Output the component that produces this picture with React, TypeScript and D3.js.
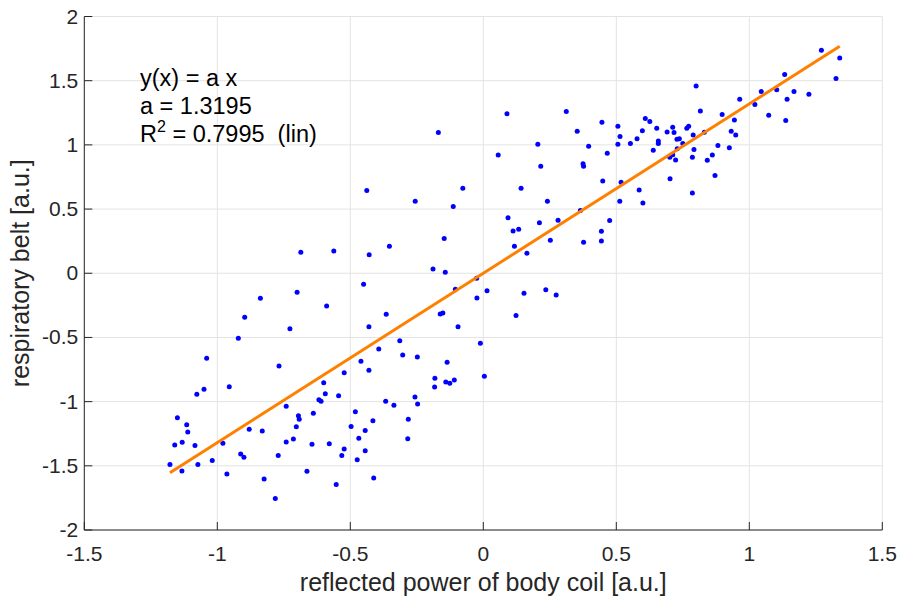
import React from "react";
import * as d3 from "d3";

const xValues = [
  -0.686, -0.700, -0.838, -0.589, -0.897, -0.727, -0.921, -1.040, -0.768, -0.955,
  -1.050, -1.077, -0.600, -0.594, -0.618, -0.610, -0.741, -1.150, -0.695, -0.692,
  -0.639, -1.115, -1.111, -0.703, -0.880, -0.831, -1.160, -1.132, -1.084, -0.979,
  -0.741, -0.714, -0.644, -0.579, -0.912, -0.900, -0.771, -1.178, -1.133, -1.073,
  -1.019, -0.964, -0.824, -0.663, -0.782, -0.438, -0.077, -0.256, -0.113, -0.147,
  -0.353, -0.562, -0.429, -0.189, -0.143, -0.450, -0.025, -0.105, 0.014, -0.024,
  -0.365, -0.162, -0.152, -0.430, -0.095, -0.314, -0.011, -0.393, -0.303, -0.248,
  -0.460, -0.136, -0.430, -0.523, 0.004, -0.182, -0.141, -0.126, -0.109, -0.183,
  -0.544, -0.257, -0.247, -0.367, -0.336, -0.481, -0.415, -0.282, -0.497, -0.444,
  -0.468, -0.284, -0.523, -0.444, -0.532, -0.474, -0.412, -0.553, 0.089, 0.312,
  0.446, 0.353, 0.506, 0.609, 0.626, 0.652, 0.691, 0.598, 0.514, 0.578,
  0.553, 0.506, 0.658, 0.658, 0.205, 0.396, 0.639, 0.466, 0.056, 0.701,
  0.216, 0.375, 0.377, 0.702, 0.449, 0.518, 0.142, 0.586, 0.600, 0.513,
  0.241, 0.365, 0.093, 0.281, 0.211, 0.475, 0.112, 0.133, 0.444, 0.252,
  0.377, 0.444, 0.117, 0.164, 0.153, 0.235, 0.274, 1.271, 1.340, 1.326,
  1.133, 0.800, 1.045, 1.103, 1.168, 1.224, 1.142, 0.964, 1.021, 0.816,
  0.898, 1.073, 1.137, 0.944, 0.712, 0.717, 0.765, 0.772, 0.932, 0.789,
  0.831, 0.949, 0.728, 0.737, 0.750, 0.729, 0.792, 0.882, 0.925, 0.712,
  0.723, 0.786, 0.861, 0.842, 0.871, 0.786, 0.123, -0.169,
];

const yValues = [
  0.164, -0.148, -0.195, -0.255, -0.343, -0.432, -0.507, -0.663, -0.723, -0.884,
  -0.904, -0.943, -0.853, -0.938, -0.985, -0.998, -1.037, -1.125, -1.110, -1.138,
  -1.091, -1.180, -1.237, -1.196, -1.216, -1.229, -1.338, -1.317, -1.341, -1.325,
  -1.315, -1.291, -1.333, -1.328, -1.408, -1.434, -1.419, -1.489, -1.541, -1.489,
  -1.458, -1.564, -1.603, -1.543, -1.754, 0.644, 0.663, 0.561, 0.519, 0.270,
  0.210, 0.174, 0.145, 0.034, 0.008, -0.086, -0.039, -0.125, -0.136, -0.193,
  -0.320, -0.318, -0.310, -0.416, -0.416, -0.525, -0.546, -0.590, -0.637, -0.652,
  -0.686, -0.694, -0.756, -0.775, -0.803, -0.818, -0.847, -0.857, -0.832, -0.886,
  -0.954, -0.964, -1.019, -0.998, -1.029, -1.079, -1.149, -1.138, -1.193, -1.224,
  -1.286, -1.289, -1.369, -1.383, -1.419, -1.453, -1.595, -1.645, 1.242, 1.260,
  1.177, 1.107, 1.146, 1.205, 1.182, 1.130, 1.101, 1.111, 1.065, 1.047,
  1.010, 1.005, 1.031, 1.010, 1.005, 0.990, 0.959, 0.935, 0.922, 0.904,
  0.834, 0.852, 0.834, 0.737, 0.719, 0.709, 0.663, 0.649, 0.548, 0.561,
  0.561, 0.488, 0.433, 0.413, 0.394, 0.410, 0.330, 0.343, 0.327, 0.257,
  0.242, 0.252, 0.210, 0.156, -0.156, -0.128, -0.169, 1.738, 1.676, 1.517,
  1.548, 1.458, 1.415, 1.429, 1.415, 1.395, 1.356, 1.356, 1.314, 1.263,
  1.236, 1.231, 1.189, 1.193, 1.138, 1.096, 1.130, 1.146, 1.107, 1.076,
  1.099, 1.076, 1.044, 1.047, 1.010, 0.969, 0.963, 0.995, 0.977, 0.924,
  0.883, 0.904, 0.922, 0.881, 0.761, 0.626, -0.330, 1.096,
];

const slopeA = 1.3195;
const rSquared = "0.7995";
const xTicks = [-1.5, -1, -0.5, 0, 0.5, 1, 1.5];
const yTicks = [-2, -1.5, -1, -0.5, 0, 0.5, 1, 1.5, 2];
const xLabel = "reflected power of body coil [a.u.]";
const yLabel = "respiratory belt [a.u.]";

const W = 901;
const H = 603;
const margin = { left: 84.3, right: W - 882.3, top: 16.5, bottom: H - 530 };
const FONT = "'Liberation Sans', Arial, Helvetica, sans-serif";

export default function App() {
  const x = d3.scaleLinear().domain([-1.5, 1.5]).range([margin.left, W - margin.right]);
  const y = d3.scaleLinear().domain([-2, 2]).range([H - margin.bottom, margin.top]);
  const [x0, x1] = d3.extent(xValues) as [number, number];
  const fitLine = d3.line<number>().x((d) => x(d)).y((d) => y(slopeA * d));
  const fmt = (v: number) => String(v);
  const gridColor = "#e3e3e3";
  const tickLen = 8;

  return (
    <svg
      width={W}
      height={H}
      style={{ position: "absolute", left: 0, top: 0, background: "#fff" }}
      fontFamily={FONT}
    >
      <rect x={0} y={0} width={W} height={H} fill="#fff" />
      {xTicks.map((t) => (
        <line key={"gx" + t} x1={x(t)} x2={x(t)} y1={y(-2)} y2={y(2)} stroke={gridColor} strokeWidth={1} />
      ))}
      {yTicks.map((t) => (
        <line key={"gy" + t} x1={x(-1.5)} x2={x(1.5)} y1={y(t)} y2={y(t)} stroke={gridColor} strokeWidth={1} />
      ))}
      {xValues.map((v, i) => (
        <circle key={"p" + i} cx={x(v)} cy={y(yValues[i])} r={2.5} fill="#0000ff" />
      ))}
      <path d={fitLine([x0, x1]) || ""} stroke="#ff8000" strokeWidth={3} fill="none" />
      <line x1={x(-1.5)} x2={x(1.5)} y1={y(-2)} y2={y(-2)} stroke="#262626" strokeWidth={1} />
      <line x1={x(-1.5)} x2={x(-1.5)} y1={y(-2)} y2={y(2)} stroke="#262626" strokeWidth={1} />
      {xTicks.map((t) => (
        <g key={"xt" + t}>
          <line x1={x(t)} x2={x(t)} y1={y(-2)} y2={y(-2) - tickLen} stroke="#262626" />
          <text x={x(t)} y={y(-2) + 31} textAnchor="middle" fontSize={21} fill="#262626">
            {fmt(t)}
          </text>
        </g>
      ))}
      {yTicks.map((t) => (
        <g key={"yt" + t}>
          <line x1={x(-1.5)} x2={x(-1.5) + tickLen} y1={y(t)} y2={y(t)} stroke="#262626" />
          <text x={x(-1.5) - 6} y={y(t) + 7} textAnchor="end" fontSize={21} fill="#262626">
            {fmt(t)}
          </text>
        </g>
      ))}
      <text x={(x(-1.5) + x(1.5)) / 2} y={591} textAnchor="middle" fontSize={25} fill="#262626">
        {xLabel}
      </text>
      <text
        transform={`translate(${29}, ${(y(-2) + y(2)) / 2}) rotate(-90)`}
        textAnchor="middle"
        fontSize={25}
        fill="#262626"
      >
        {yLabel}
      </text>
      <g fontSize={23.5} fill="#000">
        <text x={140} y={86}>y(x) = a x</text>
        <text x={140} y={113.5}>a = {slopeA.toFixed(4)}</text>
        <text x={140} y={141.5}>
          R<tspan dy={-10} fontSize={16}>2</tspan>
          <tspan dy={10}>{" = " + rSquared + "\u00a0\u00a0(lin)"}</tspan>
        </text>
      </g>
    </svg>
  );
}
